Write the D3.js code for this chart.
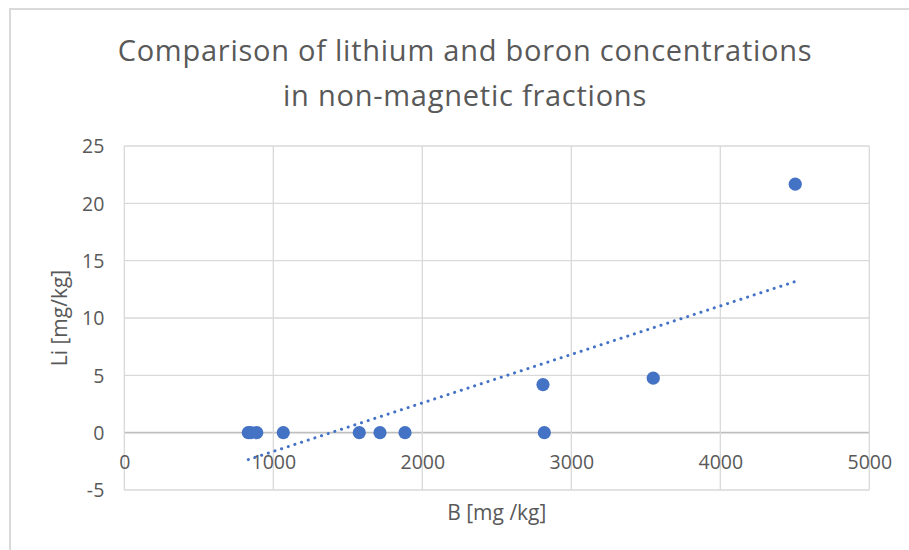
<!DOCTYPE html>
<html>
<head>
<meta charset="utf-8">
<script src="https://cdn.jsdelivr.net/npm/d3@7/dist/d3.min.js"></script>
<style>
  html, body { margin: 0; padding: 0; background: #ffffff; }
  svg { display: block; }
  text { font-family: "Open Sans", "Noto Sans", sans-serif; fill: #595959; }
</style>
</head>
<body>
<svg id="chart" width="909" height="550"></svg>
<script>
// Boron (x) and lithium (y) concentrations of the non-magnetic fractions
const boron   = [832, 848, 889, 1067, 1577, 1716, 1884, 2810, 2819, 3550, 4503];
const lithium = [0, 0, 0, 0, 0, 0, 0, 4.19, 0, 4.75, 21.67];

const xTicks = [0, 1000, 2000, 3000, 4000, 5000];
const yTicks = [-5, 0, 5, 10, 15, 20, 25];

const titleLines = ["Comparison of lithium and boron concentrations", "in non-magnetic fractions"];
const xTitle = "B [mg /kg]";
const yTitle = "Li [mg/kg]";

const W = 909, H = 550;
const plot = { left: 124.3, right: 869.3, top: 146, bottom: 490 };
const blue = "#4472C4";
const tickFont = "19.5px";

const svg = d3.select("#chart");

// chart frame (extends past the right and bottom edges)
svg.append("rect")
  .attr("x", 10).attr("y", 9)
  .attr("width", W + 20).attr("height", H + 20)
  .attr("fill", "#ffffff")
  .attr("stroke", "#d9d9d9").attr("stroke-width", 2);

const x = d3.scaleLinear().domain([0, 5000]).range([plot.left, plot.right]);
const y = d3.scaleLinear().domain([-5, 25]).range([plot.bottom, plot.top]);

// gridlines
const grid = svg.append("g");
grid.selectAll("line.h").data(yTicks).join("line")
  .attr("x1", plot.left).attr("x2", plot.right)
  .attr("y1", d => y(d)).attr("y2", d => y(d))
  .attr("stroke", d => d === 0 ? "#bfbfbf" : "#d9d9d9")
  .attr("stroke-width", d => d === 0 ? 1.6 : 1.3);
grid.selectAll("line.v").data(xTicks).join("line")
  .attr("x1", d => x(d)).attr("x2", d => x(d))
  .attr("y1", plot.top).attr("y2", plot.bottom)
  .attr("stroke", "#d9d9d9").attr("stroke-width", 1.3);

// y axis labels
const yAxis = d3.axisLeft(y).tickValues(yTicks).tickSize(0).tickPadding(0).tickFormat(d => String(d));
const yg = svg.append("g").attr("transform", `translate(${plot.left - 20},0)`).call(yAxis);
yg.select(".domain").remove();
yg.selectAll("text").style("font-size", tickFont).style("fill", "#595959")
  .style("font-family", '"Open Sans", sans-serif').attr("dy", "0.35em");

// x axis labels sit under the zero line
const xAxis = d3.axisBottom(x).tickValues(xTicks).tickSize(0).tickPadding(0).tickFormat(d => String(d));
const xg = svg.append("g").attr("transform", `translate(0,${y(0) + 30})`).call(xAxis);
xg.select(".domain").remove();
xg.selectAll("text").style("font-size", tickFont).style("fill", "#595959")
  .style("font-family", '"Open Sans", sans-serif').attr("dy", "0.35em");

// least-squares trendline through the points
const n = boron.length;
const mx = d3.mean(boron), my = d3.mean(lithium);
let sxy = 0, sxx = 0;
for (let i = 0; i < n; i++) {
  sxy += (boron[i] - mx) * (lithium[i] - my);
  sxx += (boron[i] - mx) ** 2;
}
const slope = sxy / sxx, intercept = my - slope * mx;
const [bMin, bMax] = d3.extent(boron);
svg.append("line")
  .attr("x1", x(bMin)).attr("y1", y(intercept + slope * bMin))
  .attr("x2", x(bMax)).attr("y2", y(intercept + slope * bMax))
  .attr("stroke", blue).attr("stroke-width", 3)
  .attr("stroke-dasharray", "0.1 6.9").attr("stroke-linecap", "round");

// data points
svg.append("g").selectAll("circle").data(boron).join("circle")
  .attr("cx", d => x(d)).attr("cy", (d, i) => y(lithium[i]))
  .attr("r", 6.6).attr("fill", blue);

// title, spread to the width of the first line
const titleSize = 29;
const titleWidth = 694;
const title = svg.append("g");
title.selectAll("text").data(titleLines).join("text")
  .attr("x", 465).attr("y", (d, i) => 61 + i * 45)
  .attr("text-anchor", "middle")
  .style("font-size", titleSize + "px")
  .text(d => d);
const first = title.select("text").node();
const spacing = (titleWidth - first.getComputedTextLength()) / (titleLines[0].length - 1);
title.selectAll("text").style("letter-spacing", spacing + "px");

// axis titles
svg.append("text").attr("x", (plot.left + plot.right) / 2).attr("y", 520)
  .attr("text-anchor", "middle").style("font-size", "21px").text(xTitle);
svg.append("text").attr("transform", `translate(67,318) rotate(-90)`)
  .attr("text-anchor", "middle").style("font-size", "21px").text(yTitle);
</script>
</body>
</html>
